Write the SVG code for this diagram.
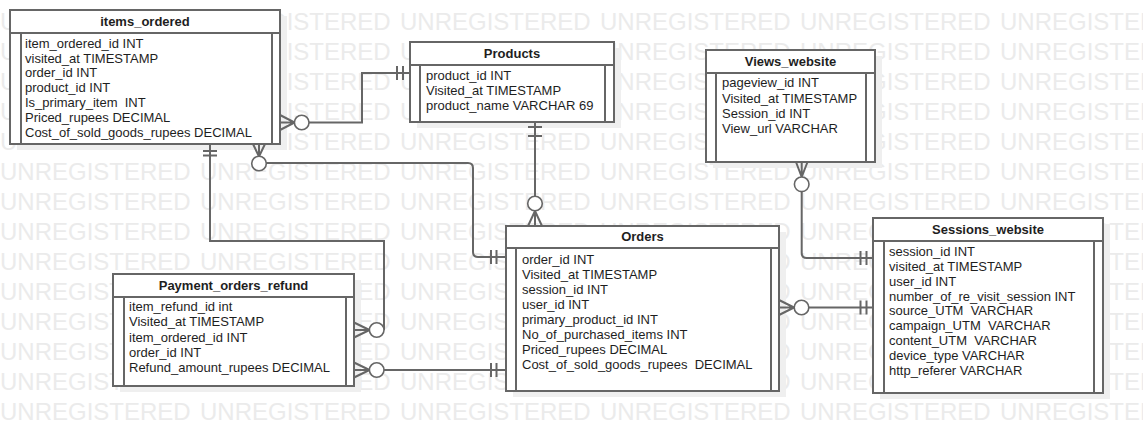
<svg xmlns="http://www.w3.org/2000/svg" xmlns:xlink="http://www.w3.org/1999/xlink" width="1143" height="433" viewBox="0 0 1143 433">
<style>
.bg{fill:#fff}
.wm{font-family:"Liberation Sans",Arial,sans-serif;font-size:24px;fill:#ebebeb}
.sh{fill:#efefef}
.box{fill:#fff;stroke:#666;stroke-width:2}
.in{stroke:#666;stroke-width:2;fill:none}
.ln{stroke:#666;stroke-width:2;fill:none}
.c{fill:#fff;stroke:#666;stroke-width:1.6}
.t{font-family:"Liberation Sans",Arial,sans-serif;font-size:13px;fill:#1e1e1e}
.h{font-weight:bold;text-anchor:middle}
</style>
<defs>
<g id="wm"><text class="wm" y="0"><tspan x="0">UNREGISTERED</tspan><tspan x="200">UNREGISTERED</tspan><tspan x="400">UNREGISTERED</tspan><tspan x="600">UNREGISTERED</tspan><tspan x="800">UNREGISTERED</tspan><tspan x="1000">UNREGISTERED</tspan></text></g>
</defs>
<rect class="bg" x="0" y="0" width="1143" height="433"/>
<g id="watermark">
<use xlink:href="#wm" y="30"/><use xlink:href="#wm" y="60"/><use xlink:href="#wm" y="90"/><use xlink:href="#wm" y="120"/><use xlink:href="#wm" y="150"/><use xlink:href="#wm" y="180"/><use xlink:href="#wm" y="210"/><use xlink:href="#wm" y="240"/><use xlink:href="#wm" y="270"/><use xlink:href="#wm" y="300"/><use xlink:href="#wm" y="330"/><use xlink:href="#wm" y="360"/><use xlink:href="#wm" y="390"/><use xlink:href="#wm" y="420"/>
</g>

<g id="items_ordered">
<rect class="sh" x="17" y="16" width="270" height="134"/>
<rect class="box" x="10" y="10" width="270" height="134"/>
<path class="in" d="M10,33H280M21,33V144M272,33V144"/>
<text class="t h" x="145" y="26">items_ordered</text>
<text class="t" x="25" y="47.7">item_ordered_id INT</text>
<text class="t" x="25" y="62.5">visited_at TIMESTAMP</text>
<text class="t" x="25" y="77.3">order_id INT</text>
<text class="t" x="25" y="92.1">product_id INT</text>
<text class="t" x="25" y="106.9" xml:space="preserve">Is_primary_item  INT</text>
<text class="t" x="25" y="121.7">Priced_rupees DECIMAL</text>
<text class="t" x="25" y="136.5">Cost_of_sold_goods_rupees DECIMAL</text>
</g>

<g id="Products">
<rect class="sh" x="417" y="48" width="204" height="80"/>
<rect class="box" x="410" y="42" width="204" height="80"/>
<path class="in" d="M410,65H614M420,65V122M605,65V122"/>
<text class="t h" x="512" y="58">Products</text>
<text class="t" x="426" y="79.5">product_id INT</text>
<text class="t" x="426" y="94.6">Visited_at TIMESTAMP</text>
<text class="t" x="426" y="109.7">product_name VARCHAR 69</text>
</g>

<g id="Views_website">
<rect class="sh" x="713" y="56" width="169" height="112"/>
<rect class="box" x="706" y="50" width="169" height="112"/>
<path class="in" d="M706,73H875M716,73V162M866,73V162"/>
<text class="t h" x="790.5" y="66">Views_website</text>
<text class="t" x="722" y="87.3">pageview_id INT</text>
<text class="t" x="722" y="102.5">Visited_at TIMESTAMP</text>
<text class="t" x="722" y="117.7">Session_id INT</text>
<text class="t" x="722" y="132.9">View_url VARCHAR</text>
</g>

<g id="Payment_orders_refund">
<rect class="sh" x="120" y="280" width="241" height="112"/>
<rect class="box" x="113" y="274" width="241" height="112"/>
<path class="in" d="M113,297H354M124,297V386M346,297V386"/>
<text class="t h" x="233.5" y="289.5">Payment_orders_refund</text>
<text class="t" x="129" y="311.3">item_refund_id int</text>
<text class="t" x="129" y="326.4">Visited_at TIMESTAMP</text>
<text class="t" x="129" y="341.5">item_ordered_id INT</text>
<text class="t" x="129" y="356.6">order_id INT</text>
<text class="t" x="129" y="371.7">Refund_amount_rupees DECIMAL</text>
</g>

<g id="Orders">
<rect class="sh" x="513" y="232" width="273" height="165"/>
<rect class="box" x="506" y="226" width="273" height="165"/>
<path class="in" d="M506,248H779M516,248V391M771,248V391"/>
<text class="t h" x="642.5" y="241">Orders</text>
<text class="t" x="522" y="263.8">order_id INT</text>
<text class="t" x="522" y="278.8">Visited_at TIMESTAMP</text>
<text class="t" x="522" y="293.8">session_id INT</text>
<text class="t" x="522" y="308.8">user_id INT</text>
<text class="t" x="522" y="323.8">primary_product_id INT</text>
<text class="t" x="522" y="338.8">No_of_purchased_items INT</text>
<text class="t" x="522" y="353.8">Priced_rupees DECIMAL</text>
<text class="t" x="522" y="368.8" xml:space="preserve">Cost_of_sold_goods_rupees  DECIMAL</text>
</g>

<g id="Sessions_website">
<rect class="sh" x="880" y="224" width="230" height="175"/>
<rect class="box" x="873" y="218" width="230" height="175"/>
<path class="in" d="M873,241H1103M884,241V393M1094,241V393"/>
<text class="t h" x="988" y="233.5">Sessions_website</text>
<text class="t" x="889" y="256.2">session_id INT</text>
<text class="t" x="889" y="271">visited_at TIMESTAMP</text>
<text class="t" x="889" y="285.8">user_id INT</text>
<text class="t" x="889" y="300.6">number_of_re_visit_session INT</text>
<text class="t" x="889" y="315.4" xml:space="preserve">source_UTM  VARCHAR</text>
<text class="t" x="889" y="330.2" xml:space="preserve">campaign_UTM  VARCHAR</text>
<text class="t" x="889" y="345" xml:space="preserve">content_UTM  VARCHAR</text>
<text class="t" x="889" y="359.8">device_type VARCHAR</text>
<text class="t" x="889" y="374.6">http_referer VARCHAR</text>
</g>

<g id="connectors">
<!-- items_ordered -> Products -->
<path class="ln" d="M280,115L294.5,122.5M280,130L294.5,122.5M280,122.5H294.5"/>
<path class="ln" d="M309,122.5H362V73H410M397,66V80M403,66V80"/>
<circle class="c" cx="301.7" cy="122.5" r="7.3"/>
<!-- items_ordered -> Orders -->
<path class="ln" d="M253,144L259,156.5M265,144L259,156.5M259,144V156.5"/>
<path class="ln" d="M266,163H468Q473,163 473,168V252Q473,257 478,257H506M491,250V264M496.5,250V264"/>
<circle class="c" cx="259" cy="163.5" r="7.3"/>
<!-- items_ordered -> Payment_orders_refund -->
<path class="ln" d="M210,144V241H384V330M203,151H217M203,155.5H217"/>
<path class="ln" d="M354,322.5L369.5,330M354,337.5L369.5,330M354,330H369.5"/>
<circle class="c" cx="376.7" cy="330" r="7.3"/>
<!-- Payment_orders_refund -> Orders -->
<path class="ln" d="M354,362.5L369.5,370M354,377.5L369.5,370M354,370H369.5"/>
<path class="ln" d="M384,370H506M491,363V377M496.5,363V377"/>
<circle class="c" cx="376.7" cy="370" r="7.3"/>
<!-- Products -> Orders -->
<path class="ln" d="M535,122V196M528,127H542M528,136H542"/>
<path class="ln" d="M535,211L528,226M535,211L542,226M535,211V226"/>
<circle class="c" cx="535" cy="203.5" r="7.3"/>
<!-- Views_website -> Sessions_website -->
<path class="ln" d="M796,162L801.7,177M807.5,162L801.7,177M801.7,162V177"/>
<path class="ln" d="M801.7,191V253Q801.7,258 806.7,258H873M860.5,251V265M866.5,251V265"/>
<circle class="c" cx="801.7" cy="184.3" r="7.3"/>
<!-- Orders -> Sessions_website -->
<path class="ln" d="M779,300L794,307.5M779,315L794,307.5M779,307.5H794"/>
<path class="ln" d="M809,307.5H873M860.5,300.5V314.5M866.5,300.5V314.5"/>
<circle class="c" cx="801.5" cy="307.5" r="7.3"/>
</g>
</svg>
